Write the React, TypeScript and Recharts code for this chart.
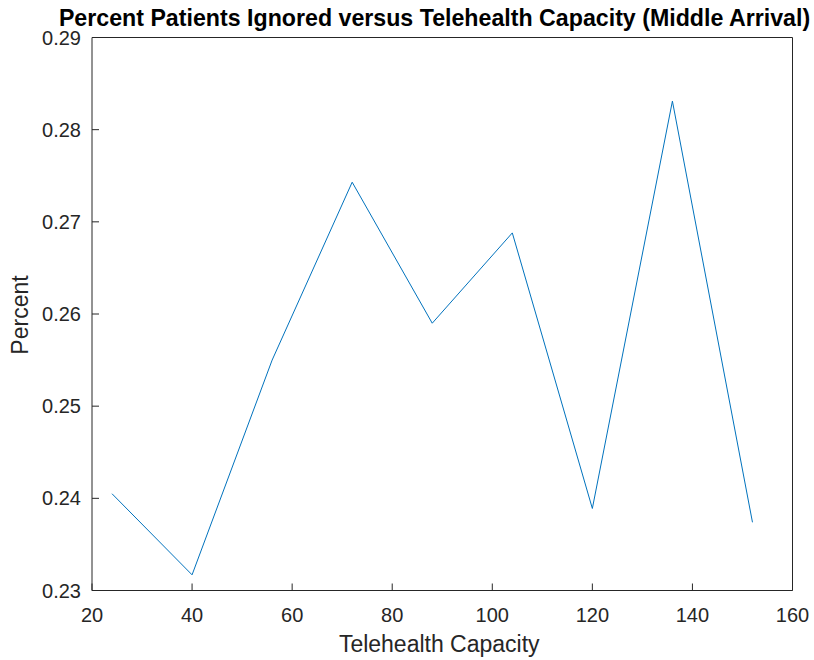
import React from "react";
import { LineChart, Line, XAxis, YAxis, Label } from "recharts";

const capacities = [24, 40, 56, 72, 88, 104, 120, 136, 152];
const percentIgnored = [0.2405, 0.2317, 0.255, 0.2743, 0.259, 0.2688, 0.2389, 0.2831, 0.2374];
const xTicks = [20, 40, 60, 80, 100, 120, 140, 160];
const yTicks = [0.23, 0.24, 0.25, 0.26, 0.27, 0.28, 0.29];

const titleText = "Percent Patients Ignored versus Telehealth Capacity (Middle Arrival)";
const xLabelText = "Telehealth Capacity";
const yLabelText = "Percent";

const data = capacities.map((c, i) => ({ capacity: c, percent: percentIgnored[i] }));

const FONT = "'Liberation Sans', Arial, Helvetica, sans-serif";
const AXIS = "#262626";

export default function App() {
  return (
    <div style={{ position: "absolute", left: 0, top: 0, width: 814, height: 660, background: "#fff" }}>
      <LineChart width={814} height={660} data={data} margin={{ top: 0, right: 0, bottom: 0, left: 0 }}>
        <XAxis
          xAxisId="bottom"
          dataKey="capacity"
          type="number"
          domain={[20, 160]}
          ticks={xTicks}
          orientation="bottom"
          height={69.5}
          tickSize={-7}
          tickMargin={24}
          stroke={AXIS}
          tick={{ fill: AXIS, fontSize: 20, fontFamily: FONT }}
          allowDataOverflow
        >
          <Label
            content={(props: any) => {
              const vb = props.viewBox || {};
              return (
                <text x={vb.x + vb.width / 2 - 3} y={652} textAnchor="middle" fill={AXIS} fontSize={23} fontFamily={FONT}>
                  {xLabelText}
                </text>
              );
            }}
          />
        </XAxis>
        <XAxis
          xAxisId="top"
          dataKey="capacity"
          type="number"
          domain={[20, 160]}
          ticks={xTicks}
          orientation="top"
          height={37.5}
          tickSize={-7}
          tick={false}
          stroke={AXIS}
        >
          <Label
            content={() => (
              <text x={434.5} y={25.5} textAnchor="middle" fill="#000" fontSize={23.2} fontWeight="bold" fontFamily={FONT}>
                {titleText}
              </text>
            )}
          />
        </XAxis>
        <YAxis
          yAxisId="left"
          type="number"
          domain={[0.23, 0.29]}
          ticks={yTicks}
          orientation="left"
          width={92}
          tickSize={-7}
          tickMargin={18}
          stroke={AXIS}
          tickFormatter={(v: number) => v.toFixed(2)}
          tick={{ fill: AXIS, fontSize: 20, fontFamily: FONT }}
          allowDataOverflow
        >
          <Label
            content={(props: any) => {
              const vb = props.viewBox || {};
              const cy = vb.y + vb.height / 2 + 1;
              return (
                <text
                  x={28}
                  y={cy}
                  textAnchor="middle"
                  fill={AXIS}
                  fontSize={23}
                  fontFamily={FONT}
                  transform={`rotate(-90, 28, ${cy})`}
                >
                  {yLabelText}
                </text>
              );
            }}
          />
        </YAxis>
        <YAxis
          yAxisId="right"
          type="number"
          domain={[0.23, 0.29]}
          ticks={yTicks}
          orientation="right"
          width={21.5}
          tickSize={-7}
          tick={false}
          stroke={AXIS}
        />
        <Line
          xAxisId="bottom"
          yAxisId="left"
          type="linear"
          dataKey="percent"
          stroke="#0072BD"
          strokeWidth={1}
          dot={false}
          isAnimationActive={false}
        />
      </LineChart>
    </div>
  );
}
